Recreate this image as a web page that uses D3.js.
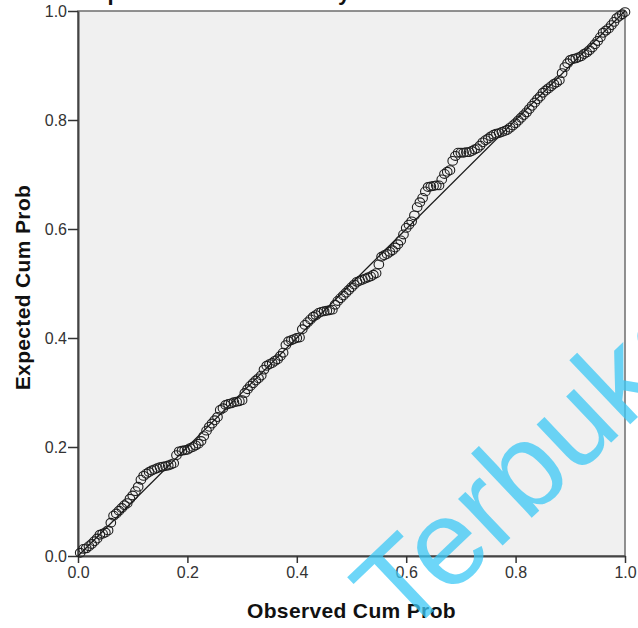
<!DOCTYPE html>
<html>
<head>
<meta charset="utf-8">
<script src="https://cdn.jsdelivr.net/npm/d3@7"></script>
<style>
  html, body { margin: 0; padding: 0; background: #ffffff; }
  svg { display: block; }
  text { font-family: "Liberation Sans", Arial, sans-serif; }
</style>
</head>
<body>
<script>
// ---- data ----
const observedCumProb = [
  0.004, 0.010, 0.015, 0.020, 0.025, 0.030, 0.035, 0.040, 0.045, 0.050,
  0.055, 0.060, 0.065, 0.070, 0.075, 0.080, 0.085, 0.090, 0.095, 0.100,
  0.105, 0.110, 0.115, 0.120, 0.125, 0.130, 0.135, 0.140, 0.145, 0.150,
  0.155, 0.160, 0.165, 0.170, 0.175, 0.180, 0.185, 0.190, 0.195, 0.200,
  0.205, 0.210, 0.215, 0.220, 0.225, 0.230, 0.235, 0.240, 0.245, 0.250,
  0.255, 0.260, 0.265, 0.270, 0.275, 0.280, 0.285, 0.290, 0.295, 0.300,
  0.305, 0.310, 0.315, 0.320, 0.325, 0.330, 0.335, 0.340, 0.345, 0.350,
  0.355, 0.360, 0.365, 0.370, 0.375, 0.380, 0.385, 0.390, 0.395, 0.400,
  0.405, 0.410, 0.415, 0.420, 0.425, 0.430, 0.435, 0.440, 0.445, 0.450,
  0.455, 0.460, 0.465, 0.470, 0.475, 0.480, 0.485, 0.490, 0.495, 0.500,
  0.505, 0.510, 0.515, 0.520, 0.525, 0.530, 0.535, 0.540, 0.545, 0.550,
  0.555, 0.560, 0.565, 0.570, 0.575, 0.580, 0.585, 0.590, 0.595, 0.600,
  0.605, 0.610, 0.615, 0.620, 0.625, 0.630, 0.635, 0.640, 0.645, 0.650,
  0.655, 0.660, 0.665, 0.670, 0.675, 0.680, 0.685, 0.690, 0.695, 0.700,
  0.705, 0.710, 0.715, 0.720, 0.725, 0.730, 0.735, 0.740, 0.745, 0.750,
  0.755, 0.760, 0.765, 0.770, 0.775, 0.780, 0.785, 0.790, 0.795, 0.800,
  0.805, 0.810, 0.815, 0.820, 0.825, 0.830, 0.835, 0.840, 0.845, 0.850,
  0.855, 0.860, 0.865, 0.870, 0.875, 0.880, 0.885, 0.890, 0.895, 0.900,
  0.905, 0.910, 0.915, 0.920, 0.925, 0.930, 0.935, 0.940, 0.945, 0.950,
  0.955, 0.960, 0.965, 0.970, 0.975, 0.980, 0.985, 0.990, 0.995, 1.000];
const expectedCumProb = [
  0.006, 0.013, 0.014, 0.018, 0.022, 0.027, 0.032, 0.039, 0.041, 0.043,
  0.047, 0.061, 0.074, 0.078, 0.083, 0.088, 0.093, 0.097, 0.105, 0.111,
  0.119, 0.127, 0.140, 0.147, 0.151, 0.154, 0.157, 0.159, 0.161, 0.163,
  0.164, 0.165, 0.166, 0.168, 0.170, 0.185, 0.192, 0.193, 0.194, 0.195,
  0.198, 0.200, 0.203, 0.206, 0.211, 0.220, 0.230, 0.237, 0.243, 0.249,
  0.255, 0.268, 0.271, 0.277, 0.279, 0.280, 0.282, 0.283, 0.284, 0.286,
  0.299, 0.306, 0.312, 0.317, 0.322, 0.326, 0.331, 0.342, 0.349, 0.352,
  0.354, 0.358, 0.361, 0.367, 0.373, 0.387, 0.394, 0.396, 0.398, 0.400,
  0.401, 0.416, 0.424, 0.429, 0.434, 0.439, 0.442, 0.446, 0.448, 0.449,
  0.450, 0.451, 0.452, 0.461, 0.468, 0.473, 0.478, 0.483, 0.488, 0.493,
  0.498, 0.503, 0.505, 0.507, 0.509, 0.511, 0.513, 0.516, 0.519, 0.535,
  0.549, 0.552, 0.554, 0.558, 0.561, 0.566, 0.572, 0.579, 0.590, 0.602,
  0.608, 0.614, 0.625, 0.640, 0.649, 0.657, 0.669, 0.677, 0.678, 0.679,
  0.680, 0.680, 0.691, 0.701, 0.705, 0.708, 0.725, 0.734, 0.740, 0.740,
  0.740, 0.741, 0.741, 0.743, 0.746, 0.748, 0.753, 0.759, 0.763, 0.766,
  0.770, 0.773, 0.775, 0.776, 0.778, 0.780, 0.782, 0.786, 0.790, 0.794,
  0.799, 0.804, 0.809, 0.814, 0.820, 0.826, 0.832, 0.838, 0.843, 0.850,
  0.854, 0.858, 0.862, 0.866, 0.869, 0.873, 0.886, 0.897, 0.904, 0.910,
  0.912, 0.913, 0.915, 0.917, 0.921, 0.924, 0.928, 0.933, 0.939, 0.945,
  0.952, 0.960, 0.964, 0.968, 0.974, 0.980, 0.987, 0.991, 0.994, 0.998];
const tickValues = [0, 0.2, 0.4, 0.6, 0.8, 1.0];
const tickLabels = ["0.0", "0.2", "0.4", "0.6", "0.8", "1.0"];
const refLine = [0, 1];
const xTitle = "Observed Cum Prob";
const yTitle = "Expected Cum Prob";
const chartTitle = "Dependent Variable: Loyalitas";
const watermark = "Terbuka";

// ---- layout ----
const W = 638, H = 628;
const L = 78, R = 625, T = 11, B = 556;

const svg = d3.select("body").append("svg").attr("width", W).attr("height", H);

const x = d3.scaleLinear().domain([0, 1]).range([L, R]);
const y = d3.scaleLinear().domain([0, 1]).range([B, T]);

// title (mostly clipped above the view, as in the reference)
svg.append("text")
  .attr("x", 78).attr("y", 0)
  .attr("font-size", 22).attr("font-weight", "bold")
  .attr("letter-spacing", 0.7)
  .attr("fill", "#111")
  .text(chartTitle);

// plot background + frame
svg.append("rect")
  .attr("x", L).attr("y", T).attr("width", R - L).attr("height", B - T)
  .attr("fill", "#f0f0f0").attr("stroke", "#6e6e6e").attr("stroke-width", 1.5);

// axes
const fmtIdx = v => tickLabels[tickValues.indexOf(v)];
const xAxis = svg.append("g").attr("transform", `translate(0,${B})`)
  .call(d3.axisBottom(x).tickValues(tickValues).tickFormat(fmtIdx).tickSizeInner(7).tickSizeOuter(0).tickPadding(4));
const yAxis = svg.append("g").attr("transform", `translate(${L},0)`)
  .call(d3.axisLeft(y).tickValues(tickValues).tickFormat(fmtIdx).tickSizeInner(10).tickSizeOuter(0).tickPadding(1));

[xAxis, yAxis].forEach(g => {
  g.select(".domain").attr("stroke", "#444").attr("stroke-width", 2);
  g.selectAll(".tick line").attr("stroke", "#333").attr("stroke-width", 1.5);
  g.selectAll(".tick text")
    .attr("font-family", "'Liberation Sans', Arial, sans-serif")
    .attr("font-size", 16).attr("fill", "#333");
});

// reference diagonal
svg.append("line")
  .attr("x1", x(refLine[0])).attr("y1", y(refLine[0]))
  .attr("x2", x(refLine[1])).attr("y2", y(refLine[1]))
  .attr("stroke", "#1a1a1a").attr("stroke-width", 1.3);

// points
svg.append("g").selectAll("ellipse")
  .data(observedCumProb.map((o, i) => [o, expectedCumProb[i]]))
  .join("ellipse")
  .attr("cx", d => x(d[0])).attr("cy", d => y(d[1]))
  .attr("rx", 4.8).attr("ry", 4.4)
  .attr("fill", "none").attr("stroke", "#1e1e1e").attr("stroke-width", 1.1);

// axis titles
svg.append("text")
  .attr("x", (L + R) / 2).attr("y", 618)
  .attr("text-anchor", "middle")
  .attr("font-size", 21).attr("font-weight", "bold").attr("letter-spacing", 0.35)
  .attr("fill", "#111")
  .text(xTitle);

svg.append("text")
  .attr("transform", `translate(30,${(T + B) / 2 + 4}) rotate(-90)`)
  .attr("text-anchor", "middle")
  .attr("font-size", 21).attr("font-weight", "bold").attr("letter-spacing", 0.35)
  .attr("fill", "#111")
  .text(yTitle);

// watermark
svg.append("text")
  .attr("transform", "translate(403,640) rotate(-43.5)")
  .attr("font-size", 122)
  .attr("fill", "#3cc8f5").attr("fill-opacity", 0.75)
  .text(watermark);
</script>
</body>
</html>
